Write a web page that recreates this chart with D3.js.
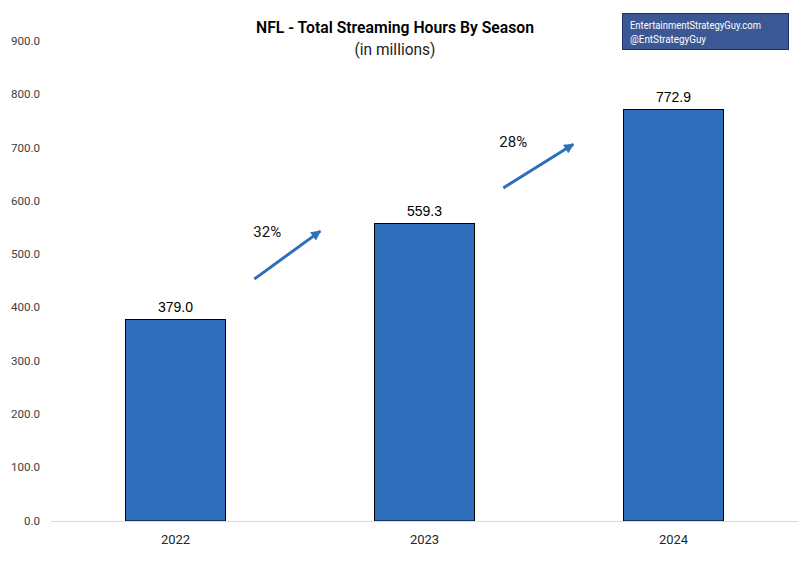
<!DOCTYPE html>
<html><head><meta charset="utf-8">
<script src="https://cdnjs.cloudflare.com/ajax/libs/d3/7.8.5/d3.min.js"></script>
<style>html,body{margin:0;padding:0;background:#fff}svg{display:block}text{font-family:Roboto,sans-serif}</style>
</head><body><svg id="c" width="811" height="564"></svg>
<script>
const seasons = ["2022","2023","2024"];
const hours = [379.0,559.3,772.9];
const yTicks = [0,100,200,300,400,500,600,700,800,900];
const growthLabels = ["32%","28%"];
const arrowFromSeason = ["2022","2023"];
const arrowStartValues = [454,625];
const arrowEndValues = [544,707];
const labelValues = [541,711];

const svg = d3.select("#c");
const m = {left:51,right:798,top:41.4,bottom:521};
const x = d3.scaleBand().domain(seasons).range([m.left,m.right]).paddingInner(0.6).paddingOuter(0.3);
const y = d3.scaleLinear().domain([0,900]).range([m.bottom,m.top]);
const cond = (sel,w)=>sel.attr("textLength",w).attr("lengthAdjust","spacingAndGlyphs");

const yAxis = d3.axisLeft(y).tickValues(yTicks).tickFormat(d3.format(".1f")).tickSize(0);
const gy = svg.append("g").attr("transform",`translate(${m.left-11},-1)`).call(yAxis);
gy.select(".domain").remove();
gy.selectAll("text").attr("x",0).attr("dy","0.35em").attr("font-size",11.6).attr("fill","#404040").style("font-family","Roboto");

svg.selectAll("rect.bar").data(hours).join("rect").attr("class","bar")
 .attr("x",(d,i)=>Math.floor(x(seasons[i]))+.5).attr("width",100)
 .attr("y",d=>Math.round(y(d))+.5).attr("height",d=>y(0)-Math.round(y(d))-.5)
 .attr("fill","#2f6eba").attr("stroke","#000").attr("stroke-width",1);

svg.append("line").attr("x1",m.left).attr("x2",m.right).attr("y1",y(0)+.5).attr("y2",y(0)+.5).attr("stroke","#d9d9d9").attr("stroke-width",1);

svg.selectAll("text.val").data(hours).join("text").attr("class","val")
 .attr("x",(d,i)=>x(seasons[i])+x.bandwidth()/2).attr("y",d=>y(d)-7)
 .attr("text-anchor","middle").attr("font-size",14).attr("fill","#000").style("font-family","Liberation Sans").text(d=>d.toFixed(1));

const gx = svg.append("g").attr("transform",`translate(0,${m.bottom+22.5})`).call(d3.axisBottom(x).tickSize(0).tickPadding(0));
gx.select(".domain").remove();
gx.selectAll("text").attr("dy",0).attr("font-size",13).attr("fill","#262626").style("font-family","Roboto");

const defs = svg.append("defs");
defs.append("marker").attr("id","ah").attr("markerUnits","userSpaceOnUse").attr("viewBox","0 0 10 10")
 .attr("refX",9).attr("refY",5).attr("markerWidth",11).attr("markerHeight",10).attr("orient","auto")
 .append("path").attr("d","M0,0L10,5L0,10Z").attr("fill","#2f6eba");

const gapStart = s => x(s)+x.bandwidth()+29;
const gapEnd = s => x(s)+x.bandwidth()+95;
svg.selectAll("line.arrow").data(arrowFromSeason).join("line").attr("class","arrow")
 .attr("x1",s=>gapStart(s)).attr("x2",(s,i)=>gapEnd(s)+(i?4:0))
 .attr("y1",(s,i)=>y(arrowStartValues[i])).attr("y2",(s,i)=>y(arrowEndValues[i]))
 .attr("stroke","#2f6eba").attr("stroke-width",3).attr("marker-end","url(#ah)");

svg.selectAll("text.pct").data(growthLabels).join("text").attr("class","pct")
 .attr("x",(d,i)=>x(arrowFromSeason[i])+x.bandwidth()+(i?39:42)).attr("y",(d,i)=>y(labelValues[i])+(i?5:4))
 .attr("text-anchor","middle").attr("font-size",15).attr("fill","#111").text(d=>d);

cond(svg.append("text").attr("x",395).attr("y",33).attr("text-anchor","middle").attr("font-size",17).attr("font-weight",600).attr("fill","#000").text("NFL - Total Streaming Hours By Season"),278);
cond(svg.append("text").attr("x",395).attr("y",55).attr("text-anchor","middle").attr("font-size",17).attr("fill","#222").text("(in millions)"),81);

svg.append("rect").attr("x",622.5).attr("y",13.5).attr("width",166).attr("height",36).attr("fill","#3c5894").attr("stroke","#1a2f6b").attr("stroke-width",1);
cond(svg.append("text").attr("x",630).attr("y",29).attr("font-size",11.5).attr("fill","#fff").text("EntertainmentStrategyGuy.com"),131);
cond(svg.append("text").attr("x",630).attr("y",43).attr("font-size",11.5).attr("fill","#fff").text("@EntStrategyGuy"),76);
</script></body></html>
